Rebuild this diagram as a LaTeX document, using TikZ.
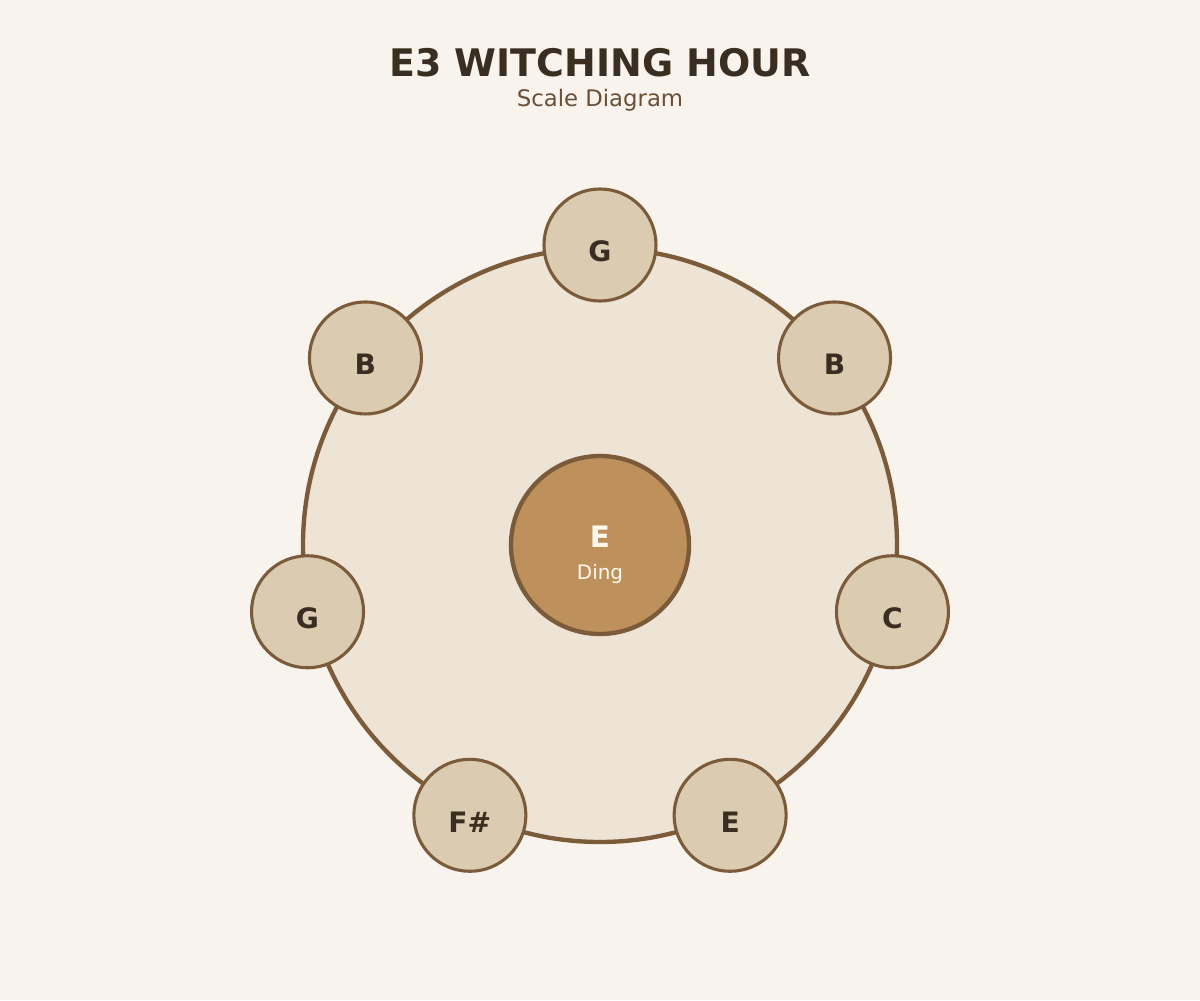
\documentclass[tikz,border=0pt]{standalone}
\usepackage{fontspec}
\setmainfont{DejaVu Sans}
\usepackage{tikz}
\usetikzlibrary{positioning}
\definecolor{paper}{HTML}{F8F3ED}
\definecolor{body}{HTML}{EEE4D5}
\definecolor{rim}{HTML}{7B5B3A}
\definecolor{tonefill}{HTML}{DBCBB0}
\definecolor{dingfill}{HTML}{BE915C}
\definecolor{ink}{HTML}{3A2E23}
\definecolor{subink}{HTML}{6B4F36}
\definecolor{dingink}{HTML}{FFF8EE}
\pgfmathsetmacro{\tonering}{7.5}

\begin{document}
\begin{tikzpicture}[
    shell/.style={circle, draw=rim, fill=body, line width=3.1pt, minimum size=14.85cm, inner sep=0pt},
    tone/.style={circle, draw=rim, fill=tonefill, line width=2.2pt, minimum size=2.8cm, inner sep=0pt},
    ding/.style={circle, draw=rim, fill=dingfill, line width=3.1pt, minimum size=4.45cm, inner sep=0pt},
    tonelabel/.style={anchor=base, text=ink, font=\fontsize{20}{24}\selectfont\bfseries},
]
    % canvas
    \fill[paper] (-15,-11.375) rectangle (15,13.625);
    \useasboundingbox (-15,-11.375) rectangle (15,13.625);
    % title
    \node[anchor=base, text=ink, font=\fontsize{27}{32}\selectfont\bfseries] (title) at (0,11.7) {E3 WITCHING HOUR};
    \node[anchor=base, text=subink, font=\fontsize{16.2}{19}\selectfont] (subtitle) at (0,10.95) {Scale Diagram};
    % drum body
    \node[shell] (body) at (0,0) {};
    % ding
    \node[ding] (ding) at (0,0) {};
    \node[anchor=base, text=dingink, font=\fontsize{21}{25}\selectfont\bfseries] (ding_note) at (0,-0.07) {E};
    \node[anchor=base, text=dingink, font=\fontsize{14.2}{17}\selectfont] (ding_name) at (0,-0.85) {Ding};
    % tone fields
    \node[tone] (g_top) at (90:\tonering) {};
    \node[tone] (b_right) at (38.57:\tonering) {};
    \node[tone] (c_right) at (-12.86:\tonering) {};
    \node[tone] (e_low) at (-64.29:\tonering) {};
    \node[tone] (fs_low) at (-115.71:\tonering) {};
    \node[tone] (g_left) at (-167.14:\tonering) {};
    \node[tone] (b_left) at (141.43:\tonering) {};
    % add labels
    \node[tonelabel] at ([yshift=-0.42cm]g_top.center) {G};
    \node[tonelabel] at ([yshift=-0.42cm]b_right.center) {B};
    \node[tonelabel] at ([yshift=-0.42cm]c_right.center) {C};
    \node[tonelabel] at ([yshift=-0.42cm]e_low.center) {E};
    \node[tonelabel] at ([yshift=-0.42cm]fs_low.center) {F\#};
    \node[tonelabel] at ([yshift=-0.42cm]g_left.center) {G};
    \node[tonelabel] at ([yshift=-0.42cm]b_left.center) {B};
\end{tikzpicture}
\end{document}
